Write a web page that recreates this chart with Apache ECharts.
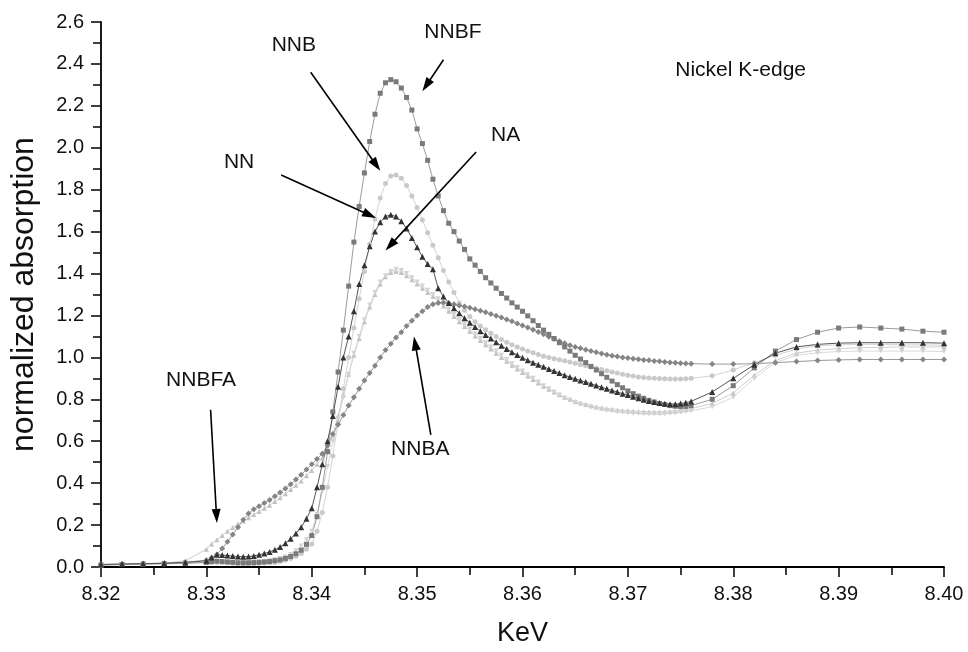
<!DOCTYPE html>
<html><head><meta charset="utf-8">
<script src="https://cdn.jsdelivr.net/npm/echarts@6/dist/echarts.min.js"></script>
<style>html,body{margin:0;padding:0;background:#fff}#c{width:968px;height:652px}</style>
</head><body><div id="c"></div>
<script>
// Energy grid (keV)
const energy = [
  8.320, 8.322, 8.324, 8.326, 8.328,
  8.3300, 8.3305, 8.3310, 8.3315, 8.3320, 8.3325, 8.3330, 8.3335, 8.3340, 8.3345, 8.3350,
  8.3355, 8.3360, 8.3365, 8.3370, 8.3375, 8.3380, 8.3385, 8.3390, 8.3395, 8.3400,
  8.3405, 8.3410, 8.3415, 8.3420, 8.3425, 8.3430, 8.3435, 8.3440, 8.3445, 8.3450, 8.3455, 8.3460, 8.3465,
  8.3470, 8.3475, 8.3480, 8.3485, 8.3490, 8.3495, 8.3500, 8.3505, 8.3510, 8.3515, 8.3520, 8.3525, 8.3530,
  8.3535, 8.3540, 8.3545, 8.3550, 8.3555, 8.3560, 8.3565, 8.3570, 8.3575, 8.3580,
  8.3585, 8.3590, 8.3595, 8.3600, 8.3605, 8.3610, 8.3615, 8.3620, 8.3625, 8.3630,
  8.3635, 8.3640, 8.3645, 8.3650, 8.3655, 8.3660, 8.3665, 8.3670, 8.3675, 8.3680,
  8.3685, 8.3690, 8.3695, 8.3700, 8.3705, 8.3710, 8.3715, 8.3720, 8.3725, 8.3730,
  8.3735, 8.3740, 8.3745, 8.3750, 8.3755, 8.3760,
  8.378, 8.380, 8.382, 8.384, 8.386, 8.388, 8.390, 8.392, 8.394, 8.396, 8.398, 8.400
];
const NNBF = [
  0.010, 0.012, 0.014, 0.016, 0.018,
  0.022, 0.026, 0.028, 0.026, 0.024, 0.022, 0.020, 0.020, 0.020, 0.021, 0.022,
  0.024, 0.026, 0.030, 0.034, 0.041, 0.050, 0.063, 0.080, 0.108, 0.150,
  0.24, 0.38, 0.55, 0.74, 0.93, 1.13, 1.34, 1.55, 1.72, 1.88, 2.03, 2.16, 2.26,
  2.31, 2.325, 2.315, 2.285, 2.24, 2.18, 2.09, 2.02, 1.94, 1.85, 1.77, 1.70, 1.64,
  1.60, 1.555, 1.515, 1.47, 1.44, 1.41, 1.38, 1.355, 1.33, 1.305,
  1.283, 1.26, 1.24, 1.22, 1.198, 1.175, 1.152, 1.13, 1.11, 1.09,
  1.07, 1.05, 1.03, 1.01, 0.992, 0.975, 0.957, 0.94, 0.922, 0.905,
  0.887, 0.87, 0.855, 0.84, 0.827, 0.815, 0.805, 0.795, 0.787, 0.78,
  0.775, 0.77, 0.767, 0.765, 0.766, 0.77,
  0.80, 0.865, 0.95, 1.03, 1.085, 1.12, 1.14, 1.145, 1.14, 1.135, 1.125, 1.12
];
const NNB = [
  0.010, 0.012, 0.013, 0.015, 0.017,
  0.020, 0.021, 0.022, 0.021, 0.020, 0.019, 0.018, 0.017, 0.017, 0.017, 0.018,
  0.019, 0.020, 0.022, 0.026, 0.032, 0.040, 0.051, 0.065, 0.085, 0.11,
  0.17, 0.26, 0.38, 0.53, 0.69, 0.85, 1.00, 1.14, 1.28, 1.41, 1.54, 1.66, 1.76,
  1.83, 1.865, 1.87, 1.855, 1.82, 1.77, 1.715, 1.655, 1.595, 1.535, 1.475, 1.415, 1.36,
  1.31, 1.26, 1.225, 1.195, 1.17, 1.15, 1.132, 1.115, 1.10, 1.085,
  1.072, 1.06, 1.05, 1.04, 1.031, 1.022, 1.014, 1.006, 1.0, 0.994,
  0.989, 0.984, 0.978, 0.972, 0.966, 0.96, 0.954, 0.948, 0.942, 0.936,
  0.93, 0.925, 0.92, 0.915, 0.911, 0.907, 0.904, 0.902, 0.90, 0.899,
  0.898, 0.897, 0.897, 0.897, 0.898, 0.90,
  0.912, 0.94, 0.975, 1.01, 1.04, 1.055, 1.06, 1.062, 1.062, 1.06, 1.06, 1.058
];
const NN = [
  0.012, 0.014, 0.016, 0.018, 0.022,
  0.030, 0.045, 0.058, 0.057, 0.055, 0.052, 0.050, 0.049, 0.050, 0.053, 0.058,
  0.064, 0.072, 0.082, 0.095, 0.113, 0.135, 0.16, 0.19, 0.23, 0.28,
  0.38, 0.49, 0.60, 0.72, 0.86, 1.00, 1.10, 1.22, 1.35, 1.44, 1.53, 1.60, 1.645,
  1.672, 1.68, 1.672, 1.65, 1.615, 1.57, 1.525, 1.48, 1.445, 1.42, 1.33, 1.29, 1.26,
  1.235, 1.21, 1.187, 1.165, 1.145, 1.125, 1.107, 1.09, 1.072, 1.055,
  1.04, 1.025, 1.011, 0.998, 0.986, 0.975, 0.965, 0.955, 0.945, 0.935,
  0.925, 0.915, 0.906, 0.898, 0.89, 0.882, 0.874, 0.866, 0.858, 0.85,
  0.842, 0.835, 0.827, 0.82, 0.812, 0.805, 0.798, 0.792, 0.787, 0.782,
  0.779, 0.777, 0.777, 0.78, 0.784, 0.79,
  0.835, 0.90, 0.965, 1.02, 1.05, 1.062, 1.068, 1.07, 1.07, 1.07, 1.07, 1.068
];
const NA = [
  0.010, 0.012, 0.014, 0.016, 0.018,
  0.022, 0.024, 0.026, 0.026, 0.025, 0.024, 0.024, 0.024, 0.024, 0.025, 0.026,
  0.028, 0.030, 0.034, 0.040, 0.048, 0.06, 0.077, 0.10, 0.13, 0.17,
  0.25, 0.36, 0.48, 0.60, 0.71, 0.81, 0.92, 1.02, 1.10, 1.18, 1.25, 1.31, 1.36,
  1.39, 1.41, 1.42, 1.415, 1.40, 1.38, 1.36, 1.34, 1.32, 1.30, 1.28, 1.255, 1.23,
  1.205, 1.18, 1.157, 1.135, 1.112, 1.09, 1.07, 1.05, 1.03, 1.01,
  0.99, 0.97, 0.952, 0.935, 0.917, 0.90, 0.882, 0.865, 0.85, 0.835,
  0.82, 0.805, 0.795, 0.785, 0.777, 0.77, 0.763, 0.757, 0.752, 0.748,
  0.744, 0.741, 0.738, 0.736, 0.734, 0.732, 0.731, 0.73, 0.73, 0.73,
  0.731, 0.733, 0.735, 0.738, 0.741, 0.745,
  0.765, 0.81, 0.90, 0.975, 1.01, 1.022, 1.028, 1.03, 1.03, 1.03, 1.03, 1.028
];
const NNBA = [
  0.012, 0.014, 0.016, 0.018, 0.022,
  0.032, 0.044, 0.06, 0.088, 0.12, 0.155, 0.19, 0.225, 0.255, 0.275, 0.29,
  0.305, 0.32, 0.337, 0.355, 0.375, 0.395, 0.417, 0.44, 0.465, 0.49,
  0.515, 0.54, 0.58, 0.635, 0.68, 0.725, 0.77, 0.81, 0.85, 0.89, 0.925, 0.96, 1.00,
  1.035, 1.065, 1.095, 1.12, 1.15, 1.175, 1.20, 1.22, 1.24, 1.253, 1.26, 1.262, 1.258,
  1.253, 1.248, 1.243, 1.237, 1.23, 1.223, 1.215, 1.207, 1.199, 1.19,
  1.181, 1.172, 1.162, 1.152, 1.142, 1.132, 1.121, 1.11, 1.099, 1.088,
  1.077, 1.067, 1.058, 1.05, 1.043, 1.036, 1.03, 1.024, 1.018, 1.013,
  1.008, 1.004, 1.0, 0.997, 0.994, 0.991, 0.988, 0.986, 0.983, 0.981,
  0.978, 0.976, 0.974, 0.972, 0.971, 0.97,
  0.968, 0.968, 0.97, 0.975, 0.98, 0.985, 0.988, 0.99, 0.99, 0.99, 0.99, 0.99
];
const NNBFA = [
  0.010, 0.012, 0.014, 0.018, 0.030,
  0.085, 0.11, 0.13, 0.15, 0.17, 0.188, 0.205, 0.22, 0.235, 0.25, 0.265,
  0.28, 0.295, 0.312, 0.33, 0.35, 0.37, 0.39, 0.41, 0.435, 0.46,
  0.49, 0.52, 0.56, 0.63, 0.72, 0.82, 0.92, 1.01, 1.09, 1.17, 1.24, 1.30, 1.35,
  1.385, 1.405, 1.41, 1.405, 1.39, 1.37, 1.35, 1.33, 1.31, 1.29, 1.27, 1.245, 1.22,
  1.195, 1.17, 1.147, 1.125, 1.102, 1.08, 1.06, 1.04, 1.02, 1.00,
  0.981, 0.962, 0.945, 0.928, 0.911, 0.895, 0.878, 0.862, 0.848, 0.835,
  0.822, 0.81, 0.80, 0.79, 0.782, 0.775, 0.769, 0.763, 0.759, 0.755,
  0.752, 0.749, 0.747, 0.745, 0.743, 0.742, 0.741, 0.74, 0.74, 0.74,
  0.741, 0.742, 0.744, 0.747, 0.751, 0.755,
  0.78, 0.83, 0.915, 0.985, 1.02, 1.035, 1.042, 1.046, 1.048, 1.05, 1.05, 1.05
];
// Axis ticks
const xTicks = {min: 8.32, max: 8.40, step: 0.01};
const yTicks = {min: 0, max: 2.6, step: 0.2};
// Annotations: label text positions and arrows (from -> to), in data units
const labels = [
  ['NNBF', 8.3534, 2.55],
  ['NNB', 8.3383, 2.49],
  ['NN', 8.3331, 1.93],
  ['NA', 8.3584, 2.06],
  ['NNBFA', 8.3295, 0.89],
  ['NNBA', 8.3503, 0.56],
  ['Nickel K-edge', 8.3807, 2.37]
];
const arrows = [
  [8.3525, 2.42, 8.3505, 2.27],
  [8.3399, 2.36, 8.3465, 1.89],
  [8.3371, 1.87, 8.3461, 1.665],
  [8.3556, 1.98, 8.3470, 1.51],
  [8.3304, 0.75, 8.3310, 0.21],
  [8.3513, 0.63, 8.3497, 1.10]
];

const FONT = '"Liberation Sans", Arial, Helvetica, sans-serif';
const chart = echarts.init(document.getElementById('c'));
const pairs = v => energy.map((e, i) => [e, v[i]]);
const downTri = 'path://M0,0 L10,0 L5,9 Z';
const defs = [
  {name: 'NNBFA', data: NNBFA, color: '#c2c2c2', line: '#d0d0d0', symbol: 'triangle', size: 5},
  {name: 'NA', data: NA, color: '#d2d2d2', line: '#dadada', symbol: downTri, size: 5},
  {name: 'NNB', data: NNB, color: '#c9c9c9', line: '#d4d4d4', symbol: 'circle', size: 5},
  {name: 'NNBA', data: NNBA, color: '#858585', line: '#9a9a9a', symbol: 'diamond', size: 6},
  {name: 'NNBF', data: NNBF, color: '#7a7a7a', line: '#9c9c9c', symbol: 'rect', size: 5},
  {name: 'NN', data: NN, color: '#333333', line: '#555555', symbol: 'triangle', size: 6}
];
const series = defs.map(d => ({
  name: d.name, type: 'line', data: pairs(d.data),
  symbol: d.symbol, symbolSize: d.size, showAllSymbol: true,
  itemStyle: {color: d.color}, lineStyle: {color: d.line, width: 1},
  silent: true, z: 2
}));
const axisCommon = {
  axisLine: {show: true, lineStyle: {color: '#000', width: 1.8}},
  axisTick: {show: true, inside: false, length: 10, lineStyle: {color: '#000', width: 1.5}},
  minorTick: {show: true, splitNumber: 2, length: 8, lineStyle: {color: '#000', width: 1.5}},
  splitLine: {show: false},
  minorSplitLine: {show: false}
};
chart.setOption({
  animation: false,
  backgroundColor: '#fff',
  grid: {left: 100, right: 24, top: 22, bottom: 74},
  xAxis: Object.assign({
    type: 'value', min: xTicks.min, max: xTicks.max, interval: xTicks.step,
    name: 'KeV', nameLocation: 'middle', nameGap: 53,
    nameTextStyle: {fontFamily: FONT, fontSize: 27, color: '#111'},
    axisLabel: {margin: 17, fontFamily: FONT, fontSize: 20, color: '#111', formatter: v => v.toFixed(2)}
  }, axisCommon),
  yAxis: Object.assign({
    type: 'value', min: yTicks.min, max: yTicks.max, interval: yTicks.step,
    name: 'normalized absorption', nameLocation: 'middle', nameGap: 61,
    nameTextStyle: {fontFamily: FONT, fontSize: 32, color: '#111'},
    axisLabel: {margin: 17, fontFamily: FONT, fontSize: 20, color: '#111', formatter: v => v.toFixed(1)}
  }, axisCommon),
  series: series
});
const gr = labels.map(l => {
  const p = chart.convertToPixel({gridIndex: 0}, [l[1], l[2]]);
  return {type: 'text', x: p[0], y: p[1], z: 10,
    style: {text: l[0], fontFamily: FONT, fontSize: 21, fill: '#111', align: 'center', verticalAlign: 'middle'}};
});
arrows.forEach(a => {
  const p1 = chart.convertToPixel({gridIndex: 0}, [a[0], a[1]]);
  const p2 = chart.convertToPixel({gridIndex: 0}, [a[2], a[3]]);
  const dx = p2[0] - p1[0], dy = p2[1] - p1[1], L = Math.hypot(dx, dy);
  const ux = dx / L, uy = dy / L, hl = 14, hw = 4.5;
  const bx = p2[0] - ux * hl, by = p2[1] - uy * hl;
  gr.push({type: 'line', z: 10, shape: {x1: p1[0], y1: p1[1], x2: bx + ux * 2, y2: by + uy * 2},
    style: {stroke: '#000', lineWidth: 1.6}});
  gr.push({type: 'polygon', z: 10,
    shape: {points: [[p2[0], p2[1]], [bx - uy * hw, by + ux * hw], [bx + uy * hw, by - ux * hw]]},
    style: {fill: '#000'}});
});
chart.setOption({graphic: gr});
</script></body></html>
